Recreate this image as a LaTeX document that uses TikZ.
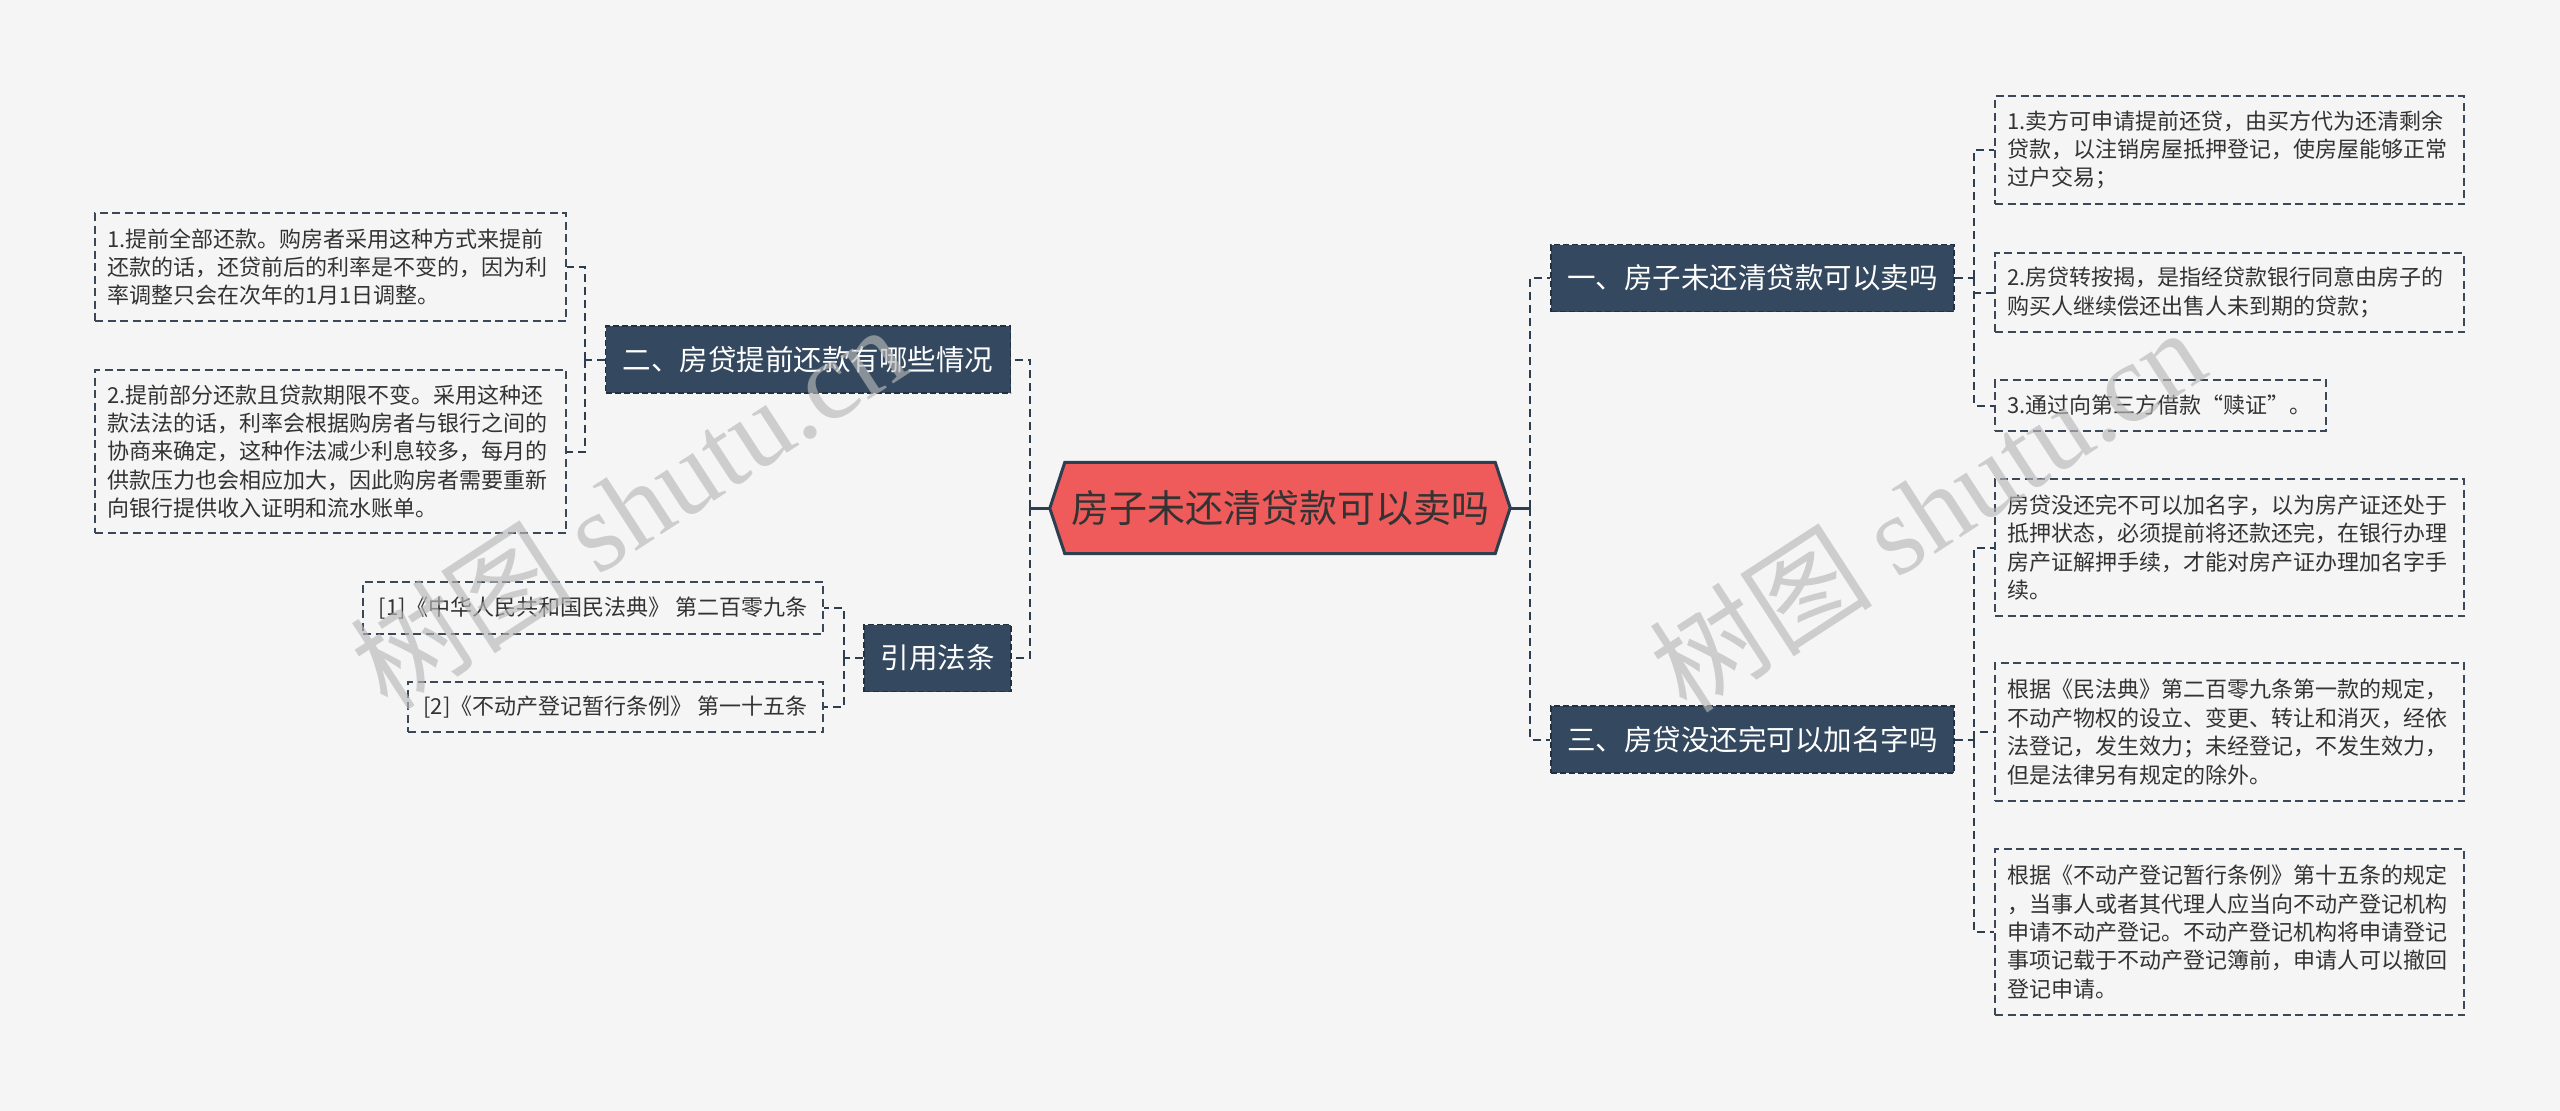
\documentclass[tikz,border=0pt]{standalone}
\usepackage{fontspec}
\setmainfont{Noto Sans CJK SC}
\newfontfamily\wmserif{Liberation Serif}
\usetikzlibrary{calc}
\definecolor{bgC}{HTML}{F5F5F5}
\definecolor{lineC}{HTML}{2D3E50}
\definecolor{boxC}{HTML}{3A4858}
\definecolor{topicC}{HTML}{34495F}
\definecolor{topicB}{HTML}{22303F}
\definecolor{rootC}{HTML}{EF5A5A}
\definecolor{txtC}{HTML}{333333}
\definecolor{wmC}{HTML}{B8B8B8}
\pgfdeclarelayer{background}
\pgfdeclarelayer{canvas}
\pgfsetlayers{canvas,background,main}
\tikzset{
  leaf/.style={draw=boxC, dash pattern=on 8pt off 4.5pt, line width=1.6pt, text=txtC,
    align=left, inner xsep=12pt, inner ysep=0pt, font=\fontsize{22}{28.4}\selectfont},
  citebox/.style={draw=boxC, dash pattern=on 8pt off 4.5pt, line width=1.6pt, text=txtC,
    align=center, inner xsep=0pt, inner ysep=0pt, font=\fontsize{22}{28.4}\selectfont},
  topic/.style={fill=topicC, draw=topicB, dash pattern=on 6pt off 3pt, line width=1.4pt,
    text=white, inner sep=0pt, minimum height=67pt, font=\fontsize{28.5}{34}\selectfont},
  conn/.style={draw=lineC, line width=2pt, dash pattern=on 8pt off 5pt},
  trunk/.style={draw=lineC, line width=3pt},
  wmark/.style={text=wmC, opacity=0.65, rotate=33, inner sep=0pt, font=\fontsize{112}{120}\selectfont}
}
\begin{document}
\begin{tikzpicture}[x=1pt,y=-1pt]
\begin{pgfonlayer}{canvas}
\fill[bgC] (0,0) rectangle (2560,1111);
\end{pgfonlayer}
\useasboundingbox (0,0) rectangle (2560,1111);

% root
\node[text=txtC, inner sep=0pt, minimum width=430pt, minimum height=91pt,
      font=\fontsize{38}{44}\selectfont] (root) at (1280,508) {房子未还清贷款可以卖吗};
\begin{pgfonlayer}{background}
\filldraw[fill=rootC, draw=lineC, line width=3pt, line join=miter]
  (root.north west) -- (root.north east) -- ++(15,45.5) -- (root.south east)
  -- (root.south west) -- ++(-15,-45.5) -- cycle;
\end{pgfonlayer}
\coordinate (rootL) at ($(root.west)+(-15,0)$);
\coordinate (rootR) at ($(root.east)+(15,0)$);

% main topics
\node[topic, minimum width=403pt] (n1) at (1752.5,278) {一、房子未还清贷款可以卖吗};
\node[topic, minimum width=403pt] (n3) at (1752.5,739.5) {三、房贷没还完可以加名字吗};
\node[topic, minimum width=405pt] (n2) at (808,359.5) {二、房贷提前还款有哪些情况};
\node[topic, minimum width=147pt] (n4) at (937.5,658) {引用法条};

% right leaves of n1
\node[leaf, text width=445pt, minimum height=108pt] (r1) at (2229.5,150)
  {1.卖方可申请提前还贷，由买方代为还清剩余\\贷款，以注销房屋抵押登记，使房屋能够正常\\过户交易；};
\node[leaf, text width=445pt, minimum height=79pt] (r2) at (2229.5,292.5)
  {2.房贷转按揭，是指经贷款银行同意由房子的\\购买人继续偿还出售人未到期的贷款；};
\node[leaf, text width=307pt, minimum height=51pt] (r3) at (2160.5,405.5)
  {3.通过向第三方借款“赎证”。};

% right leaves of n3
\node[leaf, text width=445pt, minimum height=137pt] (r4) at (2229.5,547.5)
  {房贷没还完不可以加名字，以为房产证还处于\\抵押状态，必须提前将还款还完，在银行办理\\房产证解押手续，才能对房产证办理加名字手\\续。};
\node[leaf, text width=445pt, minimum height=138pt] (r5) at (2229.5,732)
  {根据《民法典》第二百零九条第一款的规定，\\不动产物权的设立、变更、转让和消灭，经依\\法登记，发生效力；未经登记，不发生效力，\\但是法律另有规定的除外。};
\node[leaf, text width=445pt, minimum height=166pt] (r6) at (2229.5,932)
  {根据《不动产登记暂行条例》第十五条的规定\\，当事人或者其代理人应当向不动产登记机构\\申请不动产登记。不动产登记机构将申请登记\\事项记载于不动产登记簿前，申请人可以撤回\\登记申请。};

% left leaves of n2
\node[leaf, text width=447pt, minimum height=108pt] (l1) at (330.5,267)
  {1.提前全部还款。购房者采用这种方式来提前\\还款的话，还贷前后的利率是不变的，因为利\\率调整只会在次年的1月1日调整。};
\node[leaf, text width=447pt, minimum height=163pt] (l2) at (330.5,451.5)
  {2.提前部分还款且贷款期限不变。采用这种还\\款法法的话，利率会根据购房者与银行之间的\\协商来确定，这种作法减少利息较多，每月的\\供款压力也会相应加大，因此购房者需要重新\\向银行提供收入证明和流水账单。};

% citations
\node[citebox, minimum width=460pt, minimum height=52pt] (c1) at (593,608)
  {[1]《中华人民共和国民法典》 第二百零九条};
\node[citebox, minimum width=415pt, minimum height=50pt] (c2) at (615.5,707)
  {[2]《不动产登记暂行条例》 第一十五条};

% junctions
\coordinate (jR) at (1530,508);
\coordinate (jL) at (1030,508);
\coordinate (j1) at (1974,278);
\coordinate (j3) at (1974,739.5);
\coordinate (j2) at (585,359.5);
\coordinate (j4) at (844,658);

% connectors
\draw[trunk] (rootR) -- (jR);
\draw[trunk] (rootL) -- (jL);
\draw[conn] (jR) |- (n1.west);
\draw[conn] (jR) |- (n3.west);
\draw[conn] (jL) |- (n2.east);
\draw[conn] (jL) |- (n4.east);

\draw[conn] (n1.east) -- (j1);
\draw[conn] (j1) |- (r1.west);
\draw[conn] (j1) |- (r2.west);
\draw[conn] (j1) |- (r3.west);

\draw[conn] (n3.east) -- (j3);
\draw[conn] (j3) |- (r4.west);
\draw[conn] (j3) |- (r5.west);
\draw[conn] (j3) |- (r6.west);

\draw[conn] (n2.west) -- (j2);
\draw[conn] (j2) |- (l1.east);
\draw[conn] (j2) |- (l2.east);

\draw[conn] (n4.west) -- (j4);
\draw[conn] (j4) |- (c1.east);
\draw[conn] (j4) |- (c2.east);

% watermarks
\node[wmark] (wm1) at (628,506) {树图 {\wmserif shutu.cn}};
\node[wmark] (wm2) at (1927,509) {树图 {\wmserif shutu.cn}};
\end{tikzpicture}
\end{document}
